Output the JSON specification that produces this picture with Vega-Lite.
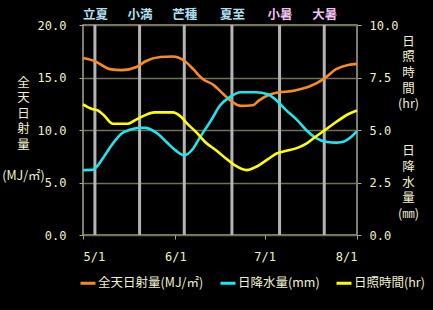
{
  "$schema": "https://vega.github.io/schema/vega-lite/v6.json",
  "autosize": {"type": "none"},
  "padding": {"left": 83, "top": 25, "right": 76, "bottom": 75},
  "width": 274,
  "height": 210,
  "background": "#000000",
  "config": {
    "view": {"stroke": "#a8a888", "strokeWidth": 1.5},
    "axis": {
      "labelColor": "#f0f0c8",
      "titleColor": "#f0f0d0",
      "tickColor": "#a8a888",
      "domain": false,
      "labelFont": "DejaVu Sans Mono",
      "labelFontSize": 12,
      "titleFont": "Noto Sans CJK JP",
      "titleFontWeight": "normal"
    },
    "legend": {
      "labelColor": "#f0f0d0",
      "labelFont": "Noto Sans CJK JP",
      "labelFontSize": 12.5
    }
  },
  "datasets": {
    "terms": [
      {"date": "2023-05-05", "term": "立夏"},
      {"date": "2023-05-20", "term": "小満"},
      {"date": "2023-06-04", "term": "芒種"},
      {"date": "2023-06-20", "term": "夏至"},
      {"date": "2023-07-06", "term": "小暑"},
      {"date": "2023-07-21", "term": "大暑"}
    ],
    "series": [
      {"date": "2023-05-01", "series": "全天日射量(MJ/㎡)", "value": 16.85},
      {"date": "2023-05-05", "series": "全天日射量(MJ/㎡)", "value": 16.55},
      {"date": "2023-05-10", "series": "全天日射量(MJ/㎡)", "value": 15.8},
      {"date": "2023-05-14", "series": "全天日射量(MJ/㎡)", "value": 15.7},
      {"date": "2023-05-19", "series": "全天日射量(MJ/㎡)", "value": 16.0},
      {"date": "2023-05-22", "series": "全天日射量(MJ/㎡)", "value": 16.55},
      {"date": "2023-05-27", "series": "全天日射量(MJ/㎡)", "value": 16.95},
      {"date": "2023-05-31", "series": "全天日射量(MJ/㎡)", "value": 17.0},
      {"date": "2023-06-04", "series": "全天日射量(MJ/㎡)", "value": 16.6},
      {"date": "2023-06-07", "series": "全天日射量(MJ/㎡)", "value": 15.8},
      {"date": "2023-06-10", "series": "全天日射量(MJ/㎡)", "value": 14.9},
      {"date": "2023-06-14", "series": "全天日射量(MJ/㎡)", "value": 14.25},
      {"date": "2023-06-17", "series": "全天日射量(MJ/㎡)", "value": 13.45},
      {"date": "2023-06-20", "series": "全天日射量(MJ/㎡)", "value": 12.7},
      {"date": "2023-06-23", "series": "全天日射量(MJ/㎡)", "value": 12.3},
      {"date": "2023-06-27", "series": "全天日射量(MJ/㎡)", "value": 12.35},
      {"date": "2023-06-29", "series": "全天日射量(MJ/㎡)", "value": 12.8},
      {"date": "2023-07-03", "series": "全天日射量(MJ/㎡)", "value": 13.4},
      {"date": "2023-07-06", "series": "全天日射量(MJ/㎡)", "value": 13.6},
      {"date": "2023-07-10", "series": "全天日射量(MJ/㎡)", "value": 13.7},
      {"date": "2023-07-13", "series": "全天日射量(MJ/㎡)", "value": 13.9},
      {"date": "2023-07-16", "series": "全天日射量(MJ/㎡)", "value": 14.15},
      {"date": "2023-07-21", "series": "全天日射量(MJ/㎡)", "value": 14.9},
      {"date": "2023-07-25", "series": "全天日射量(MJ/㎡)", "value": 15.8},
      {"date": "2023-07-29", "series": "全天日射量(MJ/㎡)", "value": 16.2},
      {"date": "2023-08-01", "series": "全天日射量(MJ/㎡)", "value": 16.3},

      {"date": "2023-05-01", "series": "日降水量(mm)", "value": 3.09},
      {"date": "2023-05-04", "series": "日降水量(mm)", "value": 3.1},
      {"date": "2023-05-06", "series": "日降水量(mm)", "value": 3.32},
      {"date": "2023-05-08", "series": "日降水量(mm)", "value": 3.72},
      {"date": "2023-05-11", "series": "日降水量(mm)", "value": 4.35},
      {"date": "2023-05-14", "series": "日降水量(mm)", "value": 4.83},
      {"date": "2023-05-17", "series": "日降水量(mm)", "value": 5.02},
      {"date": "2023-05-20", "series": "日降水量(mm)", "value": 5.11},
      {"date": "2023-05-22", "series": "日降水量(mm)", "value": 5.1},
      {"date": "2023-05-26", "series": "日降水量(mm)", "value": 4.83},
      {"date": "2023-05-29", "series": "日降水量(mm)", "value": 4.43},
      {"date": "2023-06-01", "series": "日降水量(mm)", "value": 4.04},
      {"date": "2023-06-04", "series": "日降水量(mm)", "value": 3.8},
      {"date": "2023-06-07", "series": "日降水量(mm)", "value": 4.12},
      {"date": "2023-06-09", "series": "日降水量(mm)", "value": 4.59},
      {"date": "2023-06-13", "series": "日降水量(mm)", "value": 5.46},
      {"date": "2023-06-16", "series": "日降水量(mm)", "value": 6.17},
      {"date": "2023-06-19", "series": "日降水量(mm)", "value": 6.54},
      {"date": "2023-06-23", "series": "日降水量(mm)", "value": 6.8},
      {"date": "2023-06-28", "series": "日降水量(mm)", "value": 6.8},
      {"date": "2023-07-02", "series": "日降水量(mm)", "value": 6.7},
      {"date": "2023-07-05", "series": "日降水量(mm)", "value": 6.41},
      {"date": "2023-07-08", "series": "日降水量(mm)", "value": 5.97},
      {"date": "2023-07-12", "series": "日降水量(mm)", "value": 5.46},
      {"date": "2023-07-15", "series": "日降水量(mm)", "value": 4.99},
      {"date": "2023-07-18", "series": "日降水量(mm)", "value": 4.64},
      {"date": "2023-07-22", "series": "日降水量(mm)", "value": 4.43},
      {"date": "2023-07-25", "series": "日降水量(mm)", "value": 4.4},
      {"date": "2023-07-27", "series": "日降水量(mm)", "value": 4.43},
      {"date": "2023-07-30", "series": "日降水量(mm)", "value": 4.67},
      {"date": "2023-08-01", "series": "日降水量(mm)", "value": 4.95},

      {"date": "2023-05-01", "series": "日照時間(hr)", "value": 6.22},
      {"date": "2023-05-04", "series": "日照時間(hr)", "value": 6.0},
      {"date": "2023-05-06", "series": "日照時間(hr)", "value": 5.93},
      {"date": "2023-05-08", "series": "日照時間(hr)", "value": 5.7},
      {"date": "2023-05-11", "series": "日照時間(hr)", "value": 5.3},
      {"date": "2023-05-16", "series": "日照時間(hr)", "value": 5.3},
      {"date": "2023-05-18", "series": "日照時間(hr)", "value": 5.43},
      {"date": "2023-05-21", "series": "日照時間(hr)", "value": 5.65},
      {"date": "2023-05-25", "series": "日照時間(hr)", "value": 5.84},
      {"date": "2023-05-31", "series": "日照時間(hr)", "value": 5.84},
      {"date": "2023-06-03", "series": "日照時間(hr)", "value": 5.62},
      {"date": "2023-06-05", "series": "日照時間(hr)", "value": 5.3},
      {"date": "2023-06-08", "series": "日照時間(hr)", "value": 4.9},
      {"date": "2023-06-11", "series": "日照時間(hr)", "value": 4.43},
      {"date": "2023-06-15", "series": "日照時間(hr)", "value": 4.0},
      {"date": "2023-06-18", "series": "日照時間(hr)", "value": 3.64},
      {"date": "2023-06-21", "series": "日照時間(hr)", "value": 3.32},
      {"date": "2023-06-25", "series": "日照時間(hr)", "value": 3.09},
      {"date": "2023-06-28", "series": "日照時間(hr)", "value": 3.24},
      {"date": "2023-07-02", "series": "日照時間(hr)", "value": 3.6},
      {"date": "2023-07-05", "series": "日照時間(hr)", "value": 3.88},
      {"date": "2023-07-08", "series": "日照時間(hr)", "value": 4.0},
      {"date": "2023-07-12", "series": "日照時間(hr)", "value": 4.15},
      {"date": "2023-07-15", "series": "日照時間(hr)", "value": 4.35},
      {"date": "2023-07-18", "series": "日照時間(hr)", "value": 4.67},
      {"date": "2023-07-22", "series": "日照時間(hr)", "value": 5.07},
      {"date": "2023-07-25", "series": "日照時間(hr)", "value": 5.38},
      {"date": "2023-07-29", "series": "日照時間(hr)", "value": 5.75},
      {"date": "2023-08-01", "series": "日照時間(hr)", "value": 5.93}
    ]
  },
  "layer": [
    {
      "data": {"name": "terms"},
      "mark": {"type": "rule", "color": "#b4b4b4", "strokeWidth": 3},
      "encoding": {
        "x": {
          "field": "date", "type": "temporal",
          "scale": {"type": "utc", "domain": [{"year": 2023, "month": 5, "date": 1, "utc": true}, {"year": 2023, "month": 8, "date": 1, "utc": true}]},
          "axis": {
            "orient": "top",
            "title": null,
            "grid": false,
            "ticks": false,
            "labelPadding": 4,
            "labelFont": "Noto Sans CJK JP",
            "labelFontSize": 12.5,
            "labelFontWeight": "bold",
            "values": [
              {"year": 2023, "month": 5, "date": 5, "utc": true},
              {"year": 2023, "month": 5, "date": 20, "utc": true},
              {"year": 2023, "month": 6, "date": 4, "utc": true},
              {"year": 2023, "month": 6, "date": 20, "utc": true},
              {"year": 2023, "month": 7, "date": 6, "utc": true},
              {"year": 2023, "month": 7, "date": 21, "utc": true}
            ],
            "labelExpr": "({'05-05':'立夏','05-20':'小満','06-04':'芒種','06-20':'夏至','07-06':'小暑','07-21':'大暑'})[utcFormat(datum.value,'%m-%d')]",
            "labelColor": {"condition": {"test": "utcmonth(datum.value) >= 6", "value": "#f0c0f0"}, "value": "#b0e0f0"}
          }
        }
      }
    },
    {
      "data": {"name": "series"},
      "transform": [{"filter": "datum.series === '全天日射量(MJ/㎡)'"}],
      "mark": {"type": "line", "strokeWidth": 2.6, "interpolate": "monotone"},
      "encoding": {
        "x": {
          "field": "date", "type": "temporal",
          "scale": {"type": "utc", "domain": [{"year": 2023, "month": 5, "date": 1, "utc": true}, {"year": 2023, "month": 8, "date": 1, "utc": true}]},
          "axis": {
            "orient": "bottom",
            "title": null,
            "grid": false,
            "labelExpr": "utcFormat(datum.value, '%-m/%-d')",
            "tickSize": 4,
            "labelPadding": 12,
            "values": [
              {"year": 2023, "month": 5, "date": 1, "utc": true},
              {"year": 2023, "month": 6, "date": 1, "utc": true},
              {"year": 2023, "month": 7, "date": 1, "utc": true},
              {"year": 2023, "month": 8, "date": 1, "utc": true}
            ]
          }
        },
        "y": {
          "field": "value", "type": "quantitative",
          "scale": {"domain": [0, 20]},
          "axis": {
            "orient": "left",
            "values": [0, 5, 10, 15, 20],
            "format": ".1f",
            "grid": true,
            "gridColor": "#707052",
            "gridWidth": 1.5,
            "tickSize": 4,
            "labelPadding": 13,
            "title": ["全", "天", "日", "射", "量", "\u200b", "(MJ/㎡)"],
            "titleAngle": 0,
            "titleAlign": "center",
            "titleBaseline": "top",
            "titleX": -60,
            "titleY": 51,
            "titleFontSize": 12.5,
            "titleLineHeight": 15.5
          }
        },
        "color": {
          "field": "series", "type": "nominal",
          "scale": {
            "domain": ["全天日射量(MJ/㎡)", "日降水量(mm)", "日照時間(hr)"],
            "range": ["#f58c28", "#1ee6f0", "#ffff00"]
          },
          "legend": {
            "title": null,
            "orient": "none",
            "direction": "horizontal",
            "legendX": -4,
            "legendY": 249,
            "symbolType": "stroke",
            "symbolSize": 225,
            "symbolStrokeWidth": 3,
            "labelOffset": 1,
            "columnPadding": 10
          }
        }
      }
    },
    {
      "data": {"name": "series"},
      "transform": [{"filter": "datum.series !== '全天日射量(MJ/㎡)'"}],
      "mark": {"type": "line", "strokeWidth": 2.6, "interpolate": "monotone"},
      "encoding": {
        "x": {
          "field": "date", "type": "temporal",
          "scale": {"type": "utc", "domain": [{"year": 2023, "month": 5, "date": 1, "utc": true}, {"year": 2023, "month": 8, "date": 1, "utc": true}]},
          "axis": null
        },
        "y": {
          "field": "value", "type": "quantitative",
          "scale": {"domain": [0, 10]},
          "axis": {
            "orient": "right",
            "values": [0, 2.5, 5, 7.5, 10],
            "format": ".1f",
            "grid": false,
            "tickSize": 4,
            "labelPadding": 8,
            "title": ["日", "照", "時", "間", "(hr)", "\u200b", "\u200b\u200b", "日", "降", "水", "量", "(㎜)"],
            "titleAngle": 0,
            "titleAlign": "center",
            "titleBaseline": "top",
            "titleX": 51,
            "titleY": 10,
            "titleFontSize": 12.5,
            "titleLineHeight": 15.7
          }
        },
        "color": {
          "field": "series", "type": "nominal",
          "scale": {
            "domain": ["全天日射量(MJ/㎡)", "日降水量(mm)", "日照時間(hr)"],
            "range": ["#f58c28", "#1ee6f0", "#ffff00"]
          }
        }
      }
    }
  ],
  "resolve": {"scale": {"y": "independent"}, "axis": {"x": "independent"}}
}
